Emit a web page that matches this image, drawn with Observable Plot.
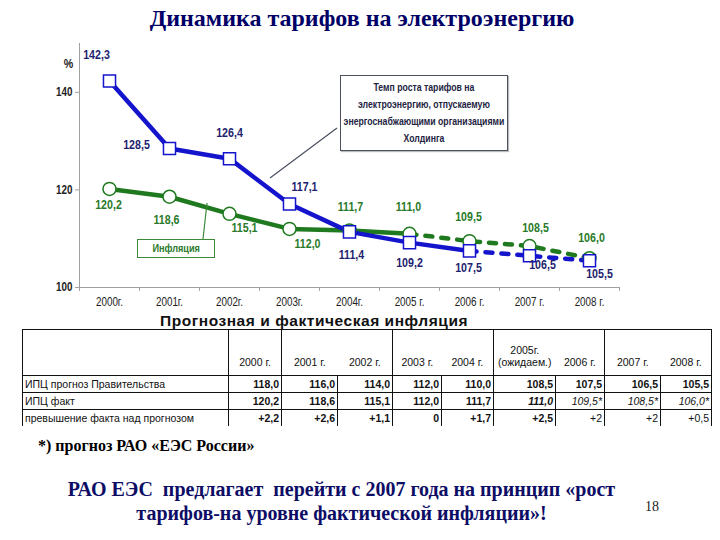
<!DOCTYPE html>
<html>
<head>
<meta charset="utf-8">
<script src="https://cdn.jsdelivr.net/npm/d3@7"></script>
<script src="https://cdn.jsdelivr.net/npm/@observablehq/plot@0.6"></script>
<style>
  body { margin: 0; background: #fff; }
  #page { position: relative; width: 720px; height: 540px; overflow: hidden; background: #fff; }
  .abs { position: absolute; }
  #title { top: 5px; left: 0; width: 724px; text-align: center; font: bold 24px "Liberation Serif", "Times New Roman", serif; color: #000066; z-index: 5; }
  .squeeze { transform-origin: left top; white-space: nowrap; }
  #box1 { left: 340px; top: 75px; width: 166px; height: 74px; border: 1.5px solid #4a5060; background: #fff; z-index: 3; box-shadow: 1px 1px 1px #bbb; overflow: hidden; }
  #box1 .squeeze { width: 210px; transform: scaleX(0.79); text-align: center; font: bold 11px "Liberation Sans", Arial, sans-serif; line-height: 17px; color: #23233f; padding-top: 3px; }
  #box2 { left: 137px; top: 239px; width: 76px; height: 17px; border: 1.5px solid #3a8a3a; background: #fff; z-index: 3; overflow: hidden; }
  #box2 .squeeze { width: 92px; transform: scaleX(0.83); text-align: center; font: bold 11px "Liberation Sans", Arial, sans-serif; line-height: 17px; color: #2a7a2a; }
  #heading { left: 160px; top: 312px; font: bold 15.5px "Liberation Sans", Arial, sans-serif; color: #111; letter-spacing: 0.55px; z-index: 5; }
  table#tbl { position: absolute; left: 22px; top: 329px; border-collapse: collapse; table-layout: fixed; font-family: "Liberation Sans", Arial, sans-serif; font-size: 10.5px; color: #111; z-index: 4; }
  #tbl td { padding: 0 2px; overflow: hidden; white-space: nowrap; }
  #tbl tr.hdr td { height: 38px; vertical-align: bottom; text-align: center; padding-bottom: 7px; border-bottom: 1px solid #111; line-height: 12px; }
  #tbl tr.dat td { height: 16px; border-right: 1px solid #111; text-align: right; font-weight: bold; }
  #tbl tr.dat td.lbl { text-align: left; font-weight: normal; font-size: 10.5px; }
  #tbl tr.r0 td, #tbl tr.r1 td { border-bottom: 1px solid #111; }
  #note { left: 38px; top: 437px; font: bold 16px "Liberation Serif", "Times New Roman", serif; color: #000; }
  #stmt { left: 0; top: 477px; width: 683px; text-align: center; font: bold 20px "Liberation Serif", "Times New Roman", serif; line-height: 24px; color: #0d0d66; }
  #pagenum { left: 645px; top: 499px; font: 14px "Liberation Serif", "Times New Roman", serif; color: #222; }
</style>
</head>
<body>
<div id="page">
  <div id="title" class="abs">Динамика тарифов на электроэнергию</div>
  <div id="box1" class="abs"><div class="squeeze">Темп роста тарифов на<br>электроэнергию, отпускаемую<br>энергоснабжающими организациями<br>Холдинга</div></div>
  <div id="box2" class="abs"><div class="squeeze">Инфляция</div></div>
  <div id="heading" class="abs">Прогнозная и фактическая инфляция</div>
  <div id="note" class="abs">*) прогноз РАО «ЕЭС России»</div>
  <div id="stmt" class="abs">РАО ЕЭС&nbsp; предлагает&nbsp; перейти с 2007 года на принцип «рост<br>тарифов-на уровне фактической инфляции»!</div>
  <div id="pagenum" class="abs">18</div>
</div>
<script>
// ---------- data ----------
const years = ["2000", "2001", "2002", "2003", "2004", "2005", "2006", "2007", "2008"];
const xTickLabels = ["2000г.", "2001г.", "2002г.", "2003г.", "2004г.", "2005 г.", "2006 г.", "2007 г.", "2008 г."];
const tariffGrowth = [142.3, 128.5, 126.4, 117.1, 111.4, 109.2, 107.5, 106.5, 105.5];
const inflation = [120.2, 118.6, 115.1, 112.0, 111.7, 111.0, 109.5, 108.5, 106.0];
const yTicks = [100, 120, 140];
const tariffActualUntil = 6;     // index of last solid (actual) tariff point
const inflationActualUntil = 5;  // index of last solid inflation point

const tableHeaders = ["2000 г.", "2001 г.", "2002 г.", "2003 г.", "2004 г.", "2005г.|(ожидаем.)", "2006 г.", "2007 г.", "2008 г."];
const rowLabels = ["ИПЦ прогноз Правительства", "ИПЦ факт", "превышение факта над прогнозом"];
const cpiForecast = [118.0, 116.0, 114.0, 112.0, 110.0, 108.5, 107.5, 106.5, 105.5];
const cpiActual = [120.2, 118.6, 115.1, 112.0, 111.7, 111.0, 109.5, 108.5, 106.0];
const excessOverForecast = [2.2, 2.6, 1.1, 0, 1.7, 2.5, 2, 2, 0.5];
const raoForecastFrom = 6; // values marked with * (RAO forecast)
const expectedIndex = 5;   // 2005 expected

// ---------- layout (label offsets in px, not data) ----------
const tariffLabelOffset = [[-13, -26], [-33, -4], [0, -26], [15, -17], [2, 23], [0, 20], [-1, 17], [13, 9], [10, 13]];
const inflLabelOffset = [[-1, 16], [-3, 23], [15, 14], [18, 15], [1, -24], [-1, -27], [-1, -24], [6, -18], [2, -20]];

const rows = years.map((year, i) => ({year, i, tariff: tariffGrowth[i], infl: inflation[i]}));

const BLUE = "#1414cc", GREEN = "#1f7a1f", BLUE_LBL = "#1e1e6e", GREEN_LBL = "#2a7a2a";
const sans = '"Liberation Sans", Arial, sans-serif';

const labelMarks = [];
rows.forEach((d, i) => {
  labelMarks.push(Plot.text([d], {x: "year", y: "tariff", text: r => r.tariff.toFixed(1).replace(".", ","),
    dx: tariffLabelOffset[i][0], dy: tariffLabelOffset[i][1], fill: BLUE_LBL, fontSize: 13, fontWeight: "bold", fontFamily: sans}));
  labelMarks.push(Plot.text([d], {x: "year", y: "infl", text: r => r.infl.toFixed(1).replace(".", ","),
    dx: inflLabelOffset[i][0], dy: inflLabelOffset[i][1], fill: GREEN_LBL, fontSize: 13, fontWeight: "bold", fontFamily: sans}));
});

const chart = Plot.plot({
  width: 720, height: 315,
  marginTop: 43, marginLeft: 79, marginRight: 101, marginBottom: 28,
  style: {background: "transparent", overflow: "visible"},
  x: {type: "point", domain: years, padding: 0.5, axis: null},
  y: {domain: [100, 150], axis: null},
  marks: [
    Plot.ruleY([100], {stroke: "#a0a0a0"}),
    Plot.ruleX([years[0]], {dx: -30, y1: 100, y2: 150, stroke: "#a0a0a0"}),
    Plot.ruleX(years, {dx: -30, y1: 100, y2: 99.2, stroke: "#a0a0a0"}),
    Plot.ruleX([years[years.length - 1]], {dx: 30, y1: 100, y2: 99.2, stroke: "#a0a0a0"}),
    Plot.axisY(yTicks, {tickSize: 4, tickPadding: 3, stroke: "#a0a0a0", fill: "#222", fontSize: 12, fontWeight: "bold", fontFamily: sans, label: null}),
    Plot.text(["%"], {frameAnchor: "top-left", dx: -11, dy: 20, textAnchor: "middle", lineAnchor: "middle", fill: "#222", fontSize: 13, fontWeight: "bold", fontFamily: sans}),
    Plot.text(rows, {x: "year", y: 100, text: d => xTickLabels[d.i], dy: 15, fill: "#222", fontSize: 12, fontFamily: sans}),
    // inflation line
    Plot.line(rows.slice(0, inflationActualUntil + 1), {x: "year", y: "infl", stroke: GREEN, strokeWidth: 4.5}),
    Plot.line(rows.slice(inflationActualUntil), {x: "year", y: "infl", stroke: GREEN, strokeWidth: 4.5, strokeDasharray: "7,9"}),
    // tariff line
    Plot.line(rows.slice(0, tariffActualUntil + 1), {x: "year", y: "tariff", stroke: BLUE, strokeWidth: 4.5}),
    Plot.line(rows.slice(tariffActualUntil), {x: "year", y: "tariff", stroke: BLUE, strokeWidth: 4.5, strokeDasharray: "7,9"}),
    Plot.dot(rows, {x: "year", y: "infl", r: 6.5, fill: "white", stroke: GREEN, strokeWidth: 1.5}),
    Plot.dot(rows, {x: "year", y: "tariff", symbol: "square", r: 6.8, fill: "white", stroke: BLUE, strokeWidth: 1.5}),
    ...labelMarks
  ]
});
chart.style.position = "absolute";
chart.style.left = "0"; chart.style.top = "0"; chart.style.zIndex = 1;
document.getElementById("page").appendChild(chart);

// narrow the chart's texts (no condensed font installed): scale about each text's anchor point
chart.querySelectorAll("text").forEach(t => {
  const tr = t.getAttribute("transform");
  if (tr) {
    t.setAttribute("transform", tr + " scale(0.82,1)");
  } else {
    const x = +(t.getAttribute("x") || 0), y = +(t.getAttribute("y") || 0);
    t.removeAttribute("x"); t.removeAttribute("y");
    t.setAttribute("transform", `translate(${x},${y}) scale(0.82,1)`);
  }
});

// connector lines for the annotation boxes
const ns = "http://www.w3.org/2000/svg";
const ov = document.createElementNS(ns, "svg");
ov.setAttribute("width", 720); ov.setAttribute("height", 315);
ov.style.position = "absolute"; ov.style.left = "0"; ov.style.top = "0"; ov.style.zIndex = 2;
[[337, 128, 270, 178, "#4a5060"], [203, 239, 207, 203, "#3a8a3a"]].forEach(([x1, y1, x2, y2, c]) => {
  const l = document.createElementNS(ns, "line");
  l.setAttribute("x1", x1); l.setAttribute("y1", y1); l.setAttribute("x2", x2); l.setAttribute("y2", y2);
  l.setAttribute("stroke", c); l.setAttribute("stroke-width", 1.2);
  ov.appendChild(l);
});
document.getElementById("page").appendChild(ov);

// ---------- table ----------
const colWidths = [206, 53, 56, 55, 49, 52, 62, 49, 56, 51];
const headerRight = [true, true, false, true, false, true, false, true, false, true];
const fmt = v => v.toFixed(1).replace(".", ",");
const fmtExcess = v => v === 0 ? "0" : "+" + (Number.isInteger(v) ? String(v) : fmt(v));

const tbl = document.createElement("table");
tbl.id = "tbl";
const cg = document.createElement("colgroup");
colWidths.forEach(w => { const c = document.createElement("col"); c.style.width = w + "px"; cg.appendChild(c); });
tbl.appendChild(cg);
tbl.style.width = d3.sum(colWidths) + "px";
tbl.style.borderTop = "1px solid #111";
tbl.style.borderLeft = "1px solid #111";

const hr = document.createElement("tr"); hr.className = "hdr";
["", ...tableHeaders].forEach((h, j) => {
  const td = document.createElement("td");
  td.innerHTML = h.split("|").join("<br>");
  if (headerRight[j]) td.style.borderRight = "1px solid #111";
  hr.appendChild(td);
});
tbl.appendChild(hr);

const dataRows = [
  cpiForecast.map(v => ({t: fmt(v)})),
  cpiActual.map((v, i) => ({t: fmt(v) + (i >= raoForecastFrom ? "*" : ""), italic: i >= expectedIndex, normal: i >= raoForecastFrom})),
  excessOverForecast.map((v, i) => ({t: fmtExcess(v), normal: i >= raoForecastFrom}))
];
dataRows.forEach((r, k) => {
  const tr = document.createElement("tr"); tr.className = "dat r" + k;
  const lt = document.createElement("td"); lt.className = "lbl"; lt.textContent = rowLabels[k]; tr.appendChild(lt);
  r.forEach(c => {
    const td = document.createElement("td");
    td.textContent = c.t;
    if (c.italic) td.style.fontStyle = "italic";
    if (c.normal) td.style.fontWeight = "normal";
    tr.appendChild(td);
  });
  tbl.appendChild(tr);
});
document.getElementById("page").appendChild(tbl);
</script>
</body>
</html>
